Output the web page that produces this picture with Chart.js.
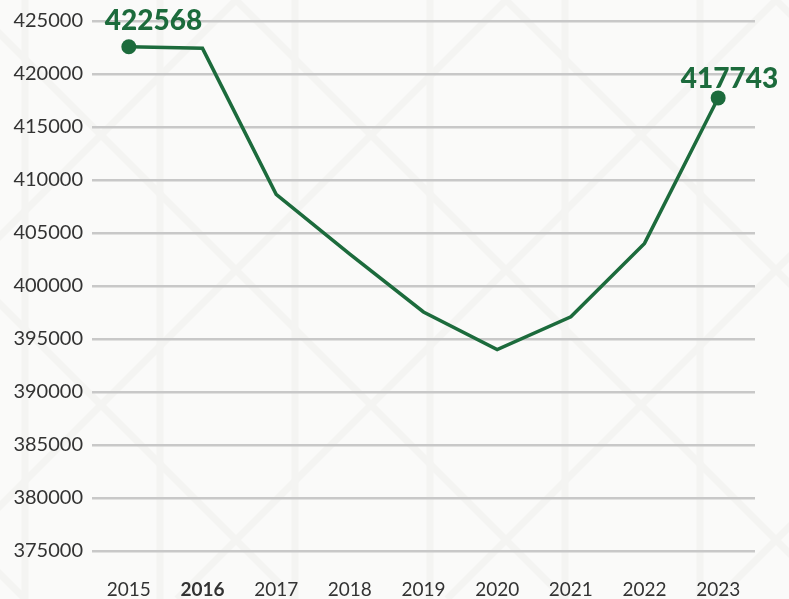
<!DOCTYPE html>
<html>
<head>
<meta charset="utf-8">
<script src="https://cdn.jsdelivr.net/npm/chart.js@4"></script>
<style>
  html, body { margin: 0; padding: 0; background: #fafaf9; }
  #wrap { width: 789px; height: 599px; position: relative; }
</style>
</head>
<body>
<div id="wrap"><canvas id="chart"></canvas></div>
<script>
// data
const years = ['2015', '2016', '2017', '2018', '2019', '2020', '2021', '2022', '2023'];
const values = [422568, 422420, 408650, 403000, 397550, 394000, 397090, 404020, 417743];
const yTicks = [375000, 380000, 385000, 390000, 395000, 400000, 405000, 410000, 415000, 420000, 425000];
const labelled = [0, 8]; // points that carry a value label

const GREEN = '#1c6b3c';

// faint leaf lattice in the background
const bgPattern = {
  id: 'bgPattern',
  beforeDraw(chart) {
    const c = chart.ctx, w = chart.width, h = chart.height;
    c.save();
    c.fillStyle = '#fafaf9';
    c.fillRect(0, 0, w, h);
    c.strokeStyle = '#f4f4f2';
    c.lineWidth = 7;
    const step = 135;
    for (let x = 25; x < w + step; x += step) {
      c.beginPath(); c.moveTo(x, 0); c.lineTo(x, h); c.stroke();
    }
    for (let k = -h; k < w + h; k += step * 2) {
      c.beginPath(); c.moveTo(k + 25, 0); c.lineTo(k + 25 + h, h); c.stroke();
      c.beginPath(); c.moveTo(k + 25, 0); c.lineTo(k + 25 - h, h); c.stroke();
    }
    c.restore();
  }
};

// bold value labels over the end points
const valueLabels = {
  id: 'valueLabels',
  afterDatasetsDraw(chart) {
    const c = chart.ctx;
    const pts = chart.getDatasetMeta(0).data;
    c.save();
    c.font = '900 28px Lato';
    c.fillStyle = GREEN;
    c.textBaseline = 'alphabetic';
    labelled.forEach(i => {
      const p = pts[i];
      if (i === 0) {
        c.textAlign = 'left';
        c.fillText(String(values[i]), p.x - 24, p.y - 17);
      } else {
        c.textAlign = 'right';
        c.fillText(String(values[i]), p.x + 60, p.y - 10);
      }
    });
    c.restore();
  }
};

new Chart(document.getElementById('chart'), {
  type: 'line',
  data: {
    labels: years,
    datasets: [{
      data: values,
      borderColor: GREEN,
      borderWidth: 3.5,
      tension: 0,
      fill: false,
      pointRadius: values.map((v, i) => labelled.includes(i) ? 7.5 : 0),
      pointBackgroundColor: GREEN,
      pointBorderWidth: 0,
      clip: false
    }]
  },
  options: {
    responsive: true,
    maintainAspectRatio: false,
    animation: false,
    layout: { padding: { top: 19, right: 34, left: 0, bottom: 0 } },
    plugins: { legend: { display: false }, tooltip: { enabled: false } },
    scales: {
      x: {
        offset: true,
        grid: { display: false },
        border: { display: false },
        ticks: {
          color: '#333',
          padding: 19,
          font: ctx => ({ family: 'Lato', size: 19, weight: ctx.tick && ctx.tick.label === '2016' ? 'bold' : 'normal' })
        },
        afterFit: s => { s.height = 48; }
      },
      y: {
        min: 375000,
        max: 425000,
        afterBuildTicks: s => { s.ticks = yTicks.map(v => ({ value: v })); },
        grid: { color: '#c8c8c8', lineWidth: 2.5, drawTicks: false },
        border: { display: false },
        ticks: {
          color: '#333',
          padding: 9,
          font: { family: 'Lato', size: 20 },
          callback: v => String(v)
        },
        afterFit: s => { s.width = 92; }
      }
    }
  },
  plugins: [bgPattern, valueLabels]
});
</script>
</body>
</html>
